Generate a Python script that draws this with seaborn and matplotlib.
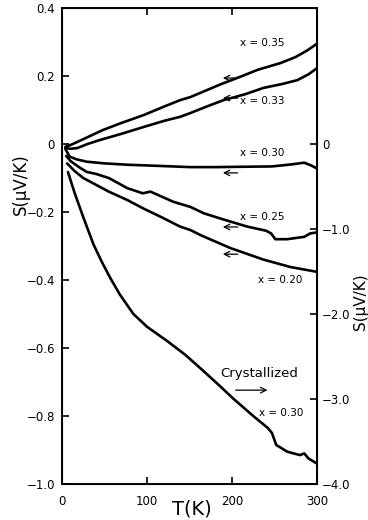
import pandas as pd
import matplotlib
matplotlib.use("Agg")
import matplotlib.pyplot as plt
import seaborn as sns

# === Amorphous samples (left axis, uV/K)
T_35 = [4, 10, 18, 30, 48, 70, 96, 120, 139, 151, 170, 187, 210, 230, 257, 275, 289, 300]
S_35 = [-0.008, -0.003, 0.006, 0.02, 0.041, 0.062, 0.085, 0.11, 0.129, 0.138, 0.158, 0.176, 0.198, 0.218, 0.238, 0.256, 0.276, 0.295]

T_33 = [4, 10, 18, 30, 45, 70, 96, 120, 139, 151, 170, 190, 215, 237, 260, 277, 290, 300]
S_33 = [-0.012, -0.014, -0.012, 0.0, 0.012, 0.03, 0.05, 0.068, 0.08, 0.091, 0.11, 0.129, 0.146, 0.165, 0.177, 0.188, 0.205, 0.223]

T_30 = [4, 9, 17, 29, 50, 77, 110, 151, 180, 210, 247, 270, 285, 293, 300]
S_30 = [-0.015, -0.037, -0.045, -0.052, -0.057, -0.061, -0.064, -0.068, -0.068, -0.067, -0.066, -0.06, -0.055, -0.063, -0.072]

T_25 = [5, 10, 20, 29, 40, 45, 55, 77, 95, 104, 131, 151, 167, 190, 218, 240, 246, 251, 265, 285, 292, 300]
S_25 = [-0.035, -0.05, -0.068, -0.082, -0.088, -0.092, -0.1, -0.13, -0.145, -0.14, -0.17, -0.185, -0.204, -0.222, -0.243, -0.255, -0.263, -0.28, -0.28, -0.273, -0.263, -0.26]

T_20 = [6, 15, 25, 37, 55, 77, 96, 116, 139, 151, 163, 198, 237, 269, 300]
S_20 = [-0.057, -0.08, -0.1, -0.116, -0.14, -0.165, -0.19, -0.214, -0.243, -0.253, -0.268, -0.306, -0.34, -0.362, -0.376]

# === Crystallized x=0.30 (right axis, uV/K)
T_cr = [7, 15, 25, 37, 47, 57, 68, 84, 100, 124, 145, 163, 185, 202, 225, 242, 247, 252, 265, 280, 285, 290, 300]
S_cr = [-0.33, -0.58, -0.86, -1.18, -1.39, -1.58, -1.77, -2.0, -2.15, -2.32, -2.48, -2.64, -2.84, -3.0, -3.2, -3.34, -3.4, -3.54, -3.62, -3.66, -3.64, -3.7, -3.76]

series = {"0.35": (T_35, S_35), "0.33": (T_33, S_33), "0.30": (T_30, S_30),
          "0.25": (T_25, S_25), "0.20": (T_20, S_20)}
rows = []
for x, (ts, ss) in series.items():
    for t, s in zip(ts, ss):
        rows.append({"x": x, "T": t, "S": s})
df = pd.DataFrame(rows)
df_cr = pd.DataFrame({"T": T_cr, "S": S_cr})

left_ticks = [0.4, 0.2, 0, -0.2, -0.4, -0.6, -0.8, -1.0]
left_labels = ["0.4", "0.2", "0", "\u22120.2", "\u22120.4", "\u22120.6", "\u22120.8", "\u22121.0"]
right_ticks = [0, -1, -2, -3, -4]
right_labels = ["0", "\u22121.0", "\u22122.0", "\u22123.0", "\u22124.0"]
x_ticks = [0, 100, 200, 300]

sns.set_style("ticks")
plt.rcParams["font.family"] = ["DejaVu Sans"]
for key in ["text.color", "axes.labelcolor", "xtick.color", "ytick.color", "axes.edgecolor"]:
    plt.rcParams[key] = "black"

fig = plt.figure(figsize=(3.68, 5.2), dpi=100)
ax = fig.add_axes([62 / 368, 36 / 520, 255 / 368, 476 / 520])

sns.lineplot(data=df, x="T", y="S", hue="x", palette=["black"] * 5,
             linewidth=1.9, legend=False, estimator=None, sort=False, ax=ax)
ax.set_xlim(0, 300)
ax.set_ylim(-1.0, 0.4)
ax.set_yticks(left_ticks)
ax.set_yticklabels(left_labels)
ax.set_xticks(x_ticks)
ax.tick_params(axis="both", direction="in", length=5, width=1.2, labelsize=8.5,
               top=True, labeltop=False)
ax.tick_params(axis="x", pad=8)
ax.tick_params(axis="y", pad=5)
for sp in ax.spines.values():
    sp.set_linewidth(1.4)

ax2 = ax.twinx()
sns.lineplot(data=df_cr, x="T", y="S", color="black", linewidth=1.9,
             estimator=None, sort=False, ax=ax2)
ax2.set_ylim(-4.0, 1.6)
ax2.set_yticks(right_ticks)
ax2.set_yticklabels(right_labels)
ax2.tick_params(axis="y", direction="in", length=5, width=1.2, labelsize=8.5)
ax2.set_ylabel("")
ax2.set_xlim(0, 300)

ax.set_xlabel("T(K)", fontsize=14)
ax.xaxis.set_label_coords(0.51, -0.053)
ax.xaxis.label.set_va("center")
ax.set_ylabel("S(\u03bcV/K)", fontsize=12)
ax.yaxis.set_label_coords(-0.16, 0.63)
ax.yaxis.label.set_va("center")
fig.text(0.979, 0.42, "S(\u03bcV/K)", rotation=90, fontsize=11,
         ha="center", va="center")

# curve labels
lab = dict(fontsize=7.5, ha="center", va="center")
ax.text(235, 0.297, "x = 0.35", **lab)
ax.text(235, 0.126, "x = 0.33", **lab)
ax.text(236, -0.026, "x = 0.30", **lab)
ax.text(235, -0.215, "x = 0.25", **lab)
ax.text(257, -0.400, "x = 0.20", **lab)
ax.text(258, -0.790, "x = 0.30", **lab)
ax.text(232, -0.674, "Crystallized", fontsize=9.5, ha="center", va="center")

arrow = dict(arrowstyle="->", color="black", lw=0.9)
for yy in [0.194, 0.135, -0.085, -0.244, -0.324]:
    ax.annotate("", xy=(186, yy), xytext=(210, yy), arrowprops=arrow)
ax.annotate("", xy=(245, -0.724), xytext=(201, -0.724), arrowprops=arrow)

plt.savefig("out.png", dpi=100)
